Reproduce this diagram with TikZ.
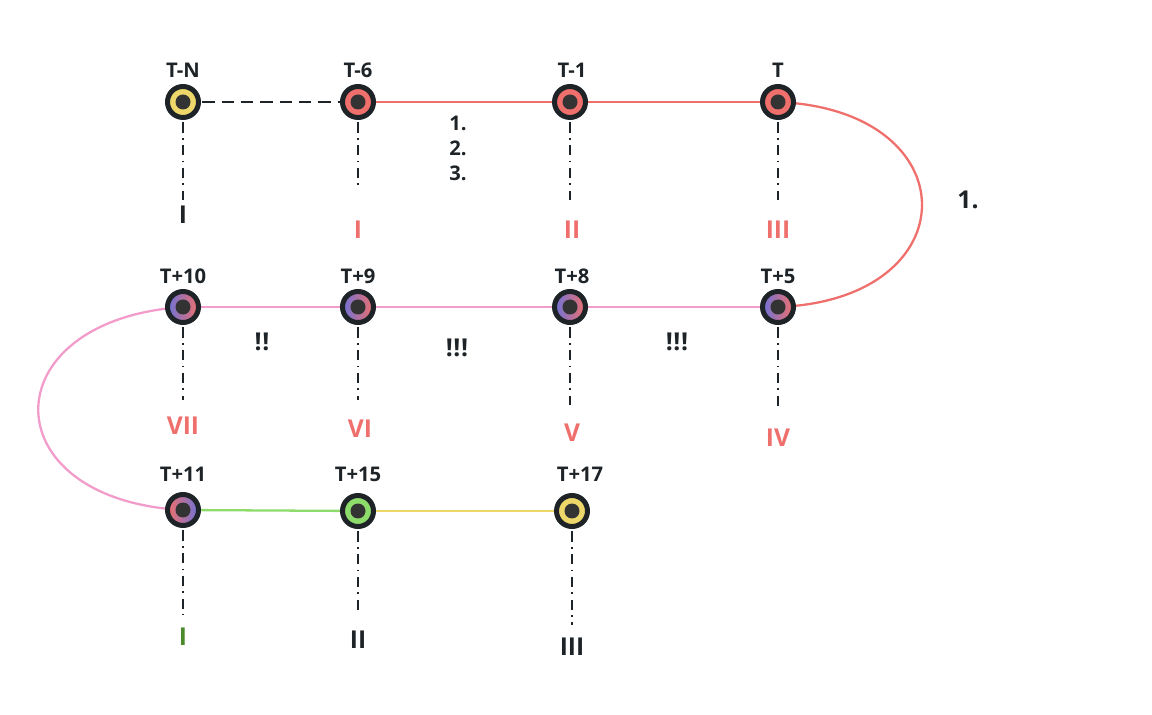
\documentclass[tikz,border=0pt]{standalone}
\usepackage{fontspec}
\setmainfont{Open Sans}
\begin{document}
\begin{tikzpicture}[x=0.02cm,y=-0.02cm,
 ev/.style={circle,minimum size=0.62cm,inner sep=0pt,draw=dk,line width=0.1cm,fill=#1,
   path picture={\fill[dot] (path picture bounding box.center) circle (0.15cm);}},
 evg/.style={circle,minimum size=0.62cm,inner sep=0pt,draw=dk,line width=0.1cm,#1,
   path picture={\fill[dot] (path picture bounding box.center) circle (0.15cm);}},
 tl/.style={font=\bfseries\fontsize{11.5}{12}\selectfont,text=dk},
 rn/.style={font=\bfseries\fontsize{14}{16}\selectfont},
 ex/.style={font=\bfseries\fontsize{14}{16}\selectfont,text=dk},
 dd/.style={dk,line width=1.2pt,dash pattern=on 6pt off 3pt on 1pt off 3pt},
 ]
\definecolor{dk}{HTML}{1D2327}
\definecolor{dot}{HTML}{333333}
\definecolor{rd}{HTML}{EE6F6C}
\definecolor{pk}{HTML}{F29CCB}
\definecolor{yl}{HTML}{EED76A}
\definecolor{gr}{HTML}{8DDB6A}
\definecolor{bl}{HTML}{6E72D8}
\definecolor{dg}{HTML}{4A8A2A}
\useasboundingbox (0,0) rectangle (1152,715);
% links
\draw[dk,line width=1.6pt,dash pattern=on 7pt off 4pt] (183,102) -- (358,102);
\draw[rd,line width=1.3pt] (358,102) -- (778,102);
\draw[rd,line width=1.3pt] (778,102) .. controls (970,110) and (970,300) .. (778,307);
\draw[pk,line width=1.3pt] (778,307) -- (183,307);
\draw[pk,line width=1.3pt] (183,307) .. controls (-10,320) and (-10,500) .. (183,510);
\draw[gr,line width=1.3pt] (183,510) -- (358,511);
\draw[yl,line width=1.3pt] (358,511) -- (572,511);
% drops
\foreach \x/\y/\e in {183/102/200,358/102/190,570/102/200,778/102/200,183/307/400,358/307/400,570/307/405,778/307/410,183/510/615,358/511/615,572/511/625}
  \draw[dd] (\x,\y+20) -- (\x,\e);
% nodes
\node[ev=yl] (tn) at (183,102) {};
\node[ev=rd] (t6) at (358,102) {};
\node[ev=rd] (t1) at (570,102) {};
\node[ev=rd] (t) at (778,102) {};
\node[evg={left color=bl,right color=rd}] (t10) at (183,307) {};
\node[evg={left color=bl,right color=rd}] (t9) at (358,307) {};
\node[evg={left color=bl,right color=rd}] (t8) at (570,307) {};
\node[evg={left color=bl,right color=rd}] (t5) at (778,307) {};
\node[evg={left color=rd,right color=bl}] (t11) at (183,510) {};
\node[ev=gr] (t15) at (358,511) {};
\node[ev=yl] (t17) at (572,511) {};
% top labels
\foreach \n/\x/\y in {T-N/183/70,T-6/358/70,T-1/572/70,T/778/70,T+10/183/276,T+9/358/276,T+8/572/276,T+5/778/276,T+11/183/474,T+15/358/474,T+17/580/474}
  \node[tl] (l\x\y) at (\x,\y) {\n};
% roman
\node[rn,text=dk] (r1) at (183,215) {I};
\node[rn,text=rd] (r2) at (358,230) {I};
\node[rn,text=rd] (r3) at (572,230) {II};
\node[rn,text=rd] (r4) at (778,230) {III};
\node[rn,text=rd] (r5) at (183,426) {VII};
\node[rn,text=rd] (r6) at (360,429) {VI};
\node[rn,text=rd] (r7) at (572,433) {V};
\node[rn,text=rd] (r8) at (778,438) {IV};
\node[rn,text=dg] (r9) at (183,637) {I};
\node[rn,text=dk] (r10) at (358,640) {II};
\node[rn,text=dk] (r11) at (572,647) {III};
% notes
\node[tl] (n1) at (458,123) {1.};
\node[tl] (n2) at (458,148) {2.};
\node[tl] (n3) at (458,173) {3.};
\node[rn,text=dk] (n4) at (968,200) {1.};
\node[ex] (e1) at (262,342) {!\kern0.3pt!};
\node[ex] (e2) at (457,348) {!\kern0.3pt!\kern0.3pt!};
\node[ex] (e3) at (677,342) {!\kern0.3pt!\kern0.3pt!};
\end{tikzpicture}
\end{document}
